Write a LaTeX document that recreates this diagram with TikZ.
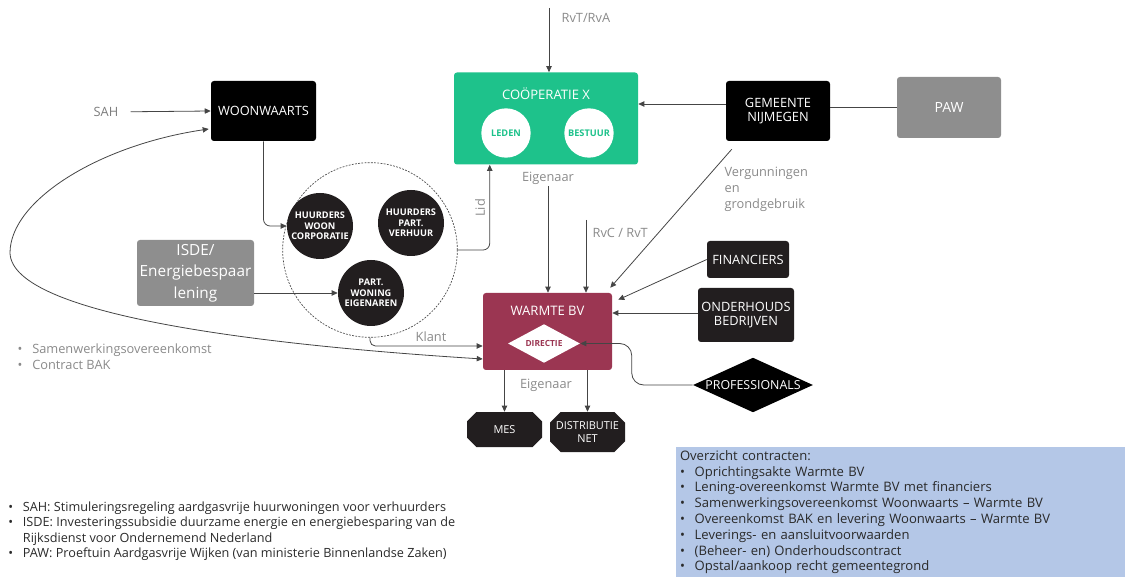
\documentclass[tikz,border=0pt]{standalone}
\usepackage{fontspec}
\setmainfont{Open Sans}
\usetikzlibrary{positioning,arrows.meta,shapes.geometric,shapes.misc,calc}
\definecolor{coopgreen}{HTML}{1EC28B}
\definecolor{warm}{HTML}{9B3652}
\definecolor{ink}{HTML}{221E1F}
\definecolor{slate}{HTML}{8E8E8E}
\definecolor{muted}{HTML}{8A8A8A}
\definecolor{wire}{HTML}{454545}
\definecolor{note}{HTML}{B4C7E7}
\definecolor{body}{HTML}{2A2A2A}
\tikzset{
  box/.style   = {rounded corners=2.2pt, text=white, align=center, inner sep=0pt,
                  font=\fontsize{9.6}{11}\selectfont},
  blk/.style   = {box, fill=black},
  drk/.style   = {box, fill=ink},
  gry/.style   = {box, fill=slate},
  hh/.style    = {circle, fill=ink, text=white, align=center, inner sep=0pt,
                  minimum size=49.5pt, font=\fontsize{6.9}{7.9}\selectfont\bfseries},
  org/.style   = {circle, fill=white, text=coopgreen, inner sep=0pt, minimum size=37pt,
                  font=\fontsize{6.9}{8}\selectfont\bfseries},
  ruit/.style  = {diamond, aspect=2.2, inner sep=0pt},
  cut/.style   = {chamfered rectangle, chamfered rectangle xsep=4pt, chamfered rectangle ysep=4pt,
                  fill=ink, text=white, align=center, inner sep=0pt,
                  font=\fontsize{8.2}{9.6}\selectfont},
  lbl/.style   = {text=muted, inner sep=1pt, font=\fontsize{9.6}{11.8}\selectfont},
  flow/.style  = {->, draw=wire, line width=0.6pt, >={Triangle[length=4.5pt,width=4pt]}},
  both/.style  = {<->, draw=wire, line width=0.6pt, >={Triangle[length=4.5pt,width=4pt]}},
  plain/.style = {draw=wire, line width=0.6pt},
  group/.style = {circle, draw=wire, line width=0.5pt, dash pattern=on 1.4pt off 1pt,
                  minimum size=131pt, inner sep=0pt},
}
\newcommand{\hhnode}[4]{\node[hh] (#1) at (#2,#3) {#4};}
\newcommand{\itm}[1]{\makebox[11pt][l]{\textbullet}#1}

\begin{document}
\begin{tikzpicture}[x=0.75pt,y=-0.75pt]
\useasboundingbox (0,0) rectangle (1125,577);

% ------------------------------------------------------------------ cooperatie and gemeente
\node[box, fill=coopgreen, minimum width=138pt, minimum height=69pt] (coop) at (546,118.5) {};
\node[text=white, font=\fontsize{9.8}{11}\selectfont, inner sep=0pt] (coopt) at (546,94) {COÖPERATIE X};
\node[org] (leden) at (506,133) {LEDEN};
\node[org] (bestuur) at (589,133) {BESTUUR};

\node[blk, minimum width=78pt, minimum height=45pt] (gem) at (778,111) {GEMEENTE\\NIJMEGEN};
\node[gry, minimum width=78pt, minimum height=45.75pt, font=\fontsize{10.5}{12}\selectfont] (paw) at (949,107.5) {PAW};

\coordinate (rvt) at (549,8);
\node[lbl, anchor=west] (rvtl) at (560,18) {RvT/RvA};
\draw[flow] (rvt) -- (rvt |- coop.north);
\draw[plain] (paw.west) -- (paw.west -| gem.east);
\draw[flow] ($(gem.west)+(0,-7)$) coordinate (g1) -- (g1 -| coop.east);

% ------------------------------------------------------------------ woonwaarts and households
\node[blk, minimum width=78.75pt, minimum height=45pt] (woon) at (263.5,111) {WOONWAARTS};
\node[lbl, text=muted!90!black] (sah) at (106,112) {SAH};
\draw[flow, shorten <=8pt] (sah) -- (woon.west);

\node[group] (grp) at (370,250) {};
\hhnode{hwc}{320}{226}{HUURDERS\\WOON\\CORPORATIE}
\hhnode{hpv}{411}{223}{HUURDERS\\PART.\\VERHUUR}
\hhnode{pwe}{371}{293}{PART.\\WONING\\EIGENAREN}

\node[gry, minimum width=87.75pt, minimum height=49.5pt, font=\fontsize{11.5}{16}\selectfont] (isde) at (195.5,273) {ISDE/\\Energiebespaar\\lening};

\draw[flow, rounded corners=5pt] (woon.south) |- (hwc.west);
\draw[flow] (isde.east |- pwe.west) -- (pwe.west);
\draw[flow, rounded corners=5pt] (grp.east) -| ($(coop.south west)+(36,0)$);
\node[lbl, rotate=90] (lid) at (480,208) {Lid};

% ------------------------------------------------------------------ warmte bv
\node[box, fill=warm, minimum width=96.75pt, minimum height=57.75pt] (warmte) at (547.5,331.5) {};
\node[text=white, font=\fontsize{9.8}{11}\selectfont, inner sep=0pt] (warmtet) at (547.5,311) {WARMTE BV};
\node[ruit, fill=white, text=warm, minimum width=54pt, minimum height=29pt,
      font=\fontsize{6.3}{7}\selectfont\bfseries] (directie) at (544,343.5) {DIRECTIE};

\node[lbl] (eig1) at (548,178) {Eigenaar};
\draw[flow] (eig1.south) -- (eig1.south |- warmte.north);
\coordinate (rvc) at (586,220);
\node[lbl, anchor=west] (rvcl) at (591,233) {RvC / RvT};
\draw[flow] (rvc) -- (rvc |- warmte.north);

\node[lbl, anchor=north west, align=left] (verg) at (723,166) {Vergunningen\\en\\grondgebruik};
\draw[flow] ($(gem.south west)+(6,8)$) -- ($(warmte.north east)+(-2,-5)$);

\node[drk, minimum width=61.5pt, minimum height=27.75pt] (fin) at (748,259.5) {FINANCIERS};
\node[drk, minimum width=72pt, minimum height=40.5pt] (ond) at (746,315) {ONDERHOUDS\\BEDRIJVEN};
\node[ruit, fill=black, text=white, minimum width=90pt, minimum height=41pt,
      font=\fontsize{9.3}{10.5}\selectfont] (prof) at (753,385) {PROFESSIONALS};

\draw[flow] (fin.west) -- ($(warmte.north east)+(6,7)$);
\draw[flow] ($(ond.west)+(0,-2)$) coordinate (o1) -- (o1 -| warmte.east);
\draw[flow, rounded corners=9pt] (prof.west) -- ++(-61,0) |- (directie.east);

\draw[flow, rounded corners=4pt] (grp.south) |- ($(warmte.west)+(0,14.5)$);
\node[lbl] (klant) at (431,337) {Klant};
\draw[both] ($(warmte.west)+(0,27.5)$) .. controls (260,345) and (12,315) .. (10,253)
  .. controls (10,200) and (100,145) .. ($(woon.west)+(-2,18)$);

\node[lbl, anchor=north west, align=left] (leg) at (16,342)
  {\itm{Samenwerkingsovereenkomst}\\\itm{Contract BAK}};

% ------------------------------------------------------------------ owned assets
\node[cut, minimum width=56.25pt, minimum height=26.25pt] (mes) at (504.5,429.5) {MES};
\node[cut, minimum width=56.25pt, minimum height=30pt] (dist) at (587.5,432) {DISTRIBUTIE\\NET};
\foreach \n in {mes,dist}{\draw[flow] (\n.north |- warmte.south) -- (\n.north);}
\node[lbl] (eig2) at (546,385) {Eigenaar};

% ------------------------------------------------------------------ notes
\node[anchor=north west, align=left, inner sep=0pt, text=body,
      font=\fontsize{9.5}{11.3}\selectfont] (gloss) at (8,502)
  {\itm{SAH: Stimuleringsregeling aardgasvrije huurwoningen voor verhuurders}\\
   \itm{ISDE: Investeringssubsidie duurzame energie en energiebesparing van de}\\
   \makebox[11pt]{}Rijksdienst voor Ondernemend Nederland\\
   \itm{PAW: Proeftuin Aardgasvrije Wijken (van ministerie Binnenlandse Zaken)}};

\node[fill=note, anchor=north west, text width=331pt, inner xsep=2.8pt, inner ysep=0pt,
      minimum height=97.5pt, align=left, text=body,
      font=\fontsize{9.8}{11.85}\selectfont] (ovz) at (676,447)
  {Overzicht contracten:\\
   \itm{Oprichtingsakte Warmte BV}\\
   \itm{Lening-overeenkomst Warmte BV met financiers}\\
   \itm{Samenwerkingsovereenkomst Woonwaarts -- Warmte BV}\\
   \itm{Overeenkomst BAK en levering Woonwaarts -- Warmte BV}\\
   \itm{Leverings- en aansluitvoorwaarden}\\
   \itm{(Beheer- en) Onderhoudscontract}\\
   \itm{Opstal/aankoop recht gemeentegrond}};

\end{tikzpicture}
\end{document}
